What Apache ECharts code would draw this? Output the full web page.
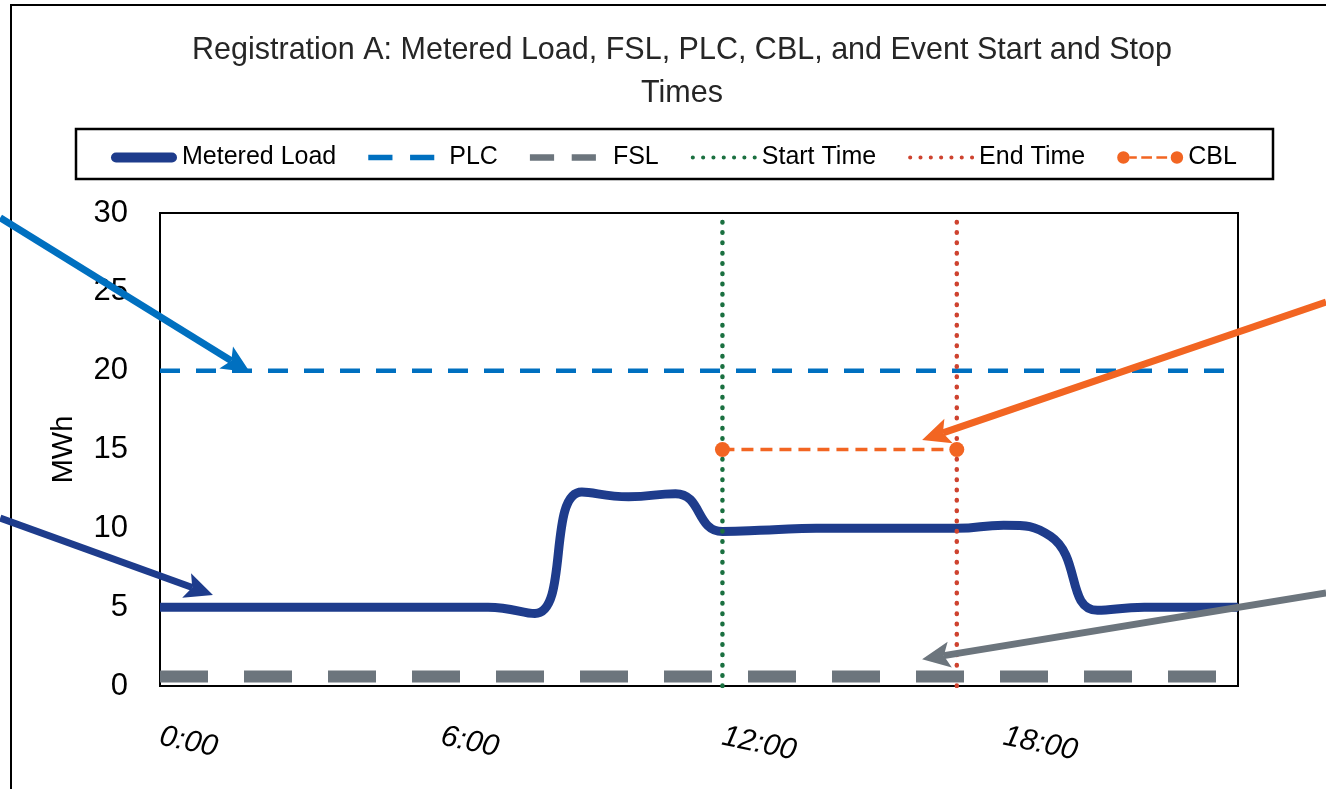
<!DOCTYPE html>
<html><head><meta charset="utf-8">
<script src="https://cdn.jsdelivr.net/npm/echarts@6/dist/echarts.min.js"></script>
<style>html,body{margin:0;padding:0;background:#fff}#c{width:1326px;height:789px}</style>
</head><body><div id="c"></div>
<script>
// ---- data ----
const hours = [0,1,2,3,4,5,6,7,8,9,10,11,12,13,14,15,16,17,18,19,20,21,22,23];
const meteredLoad = [5,5,5,5,5,5,5,5,4.6,12.3,12,12.2,9.8,9.9,10,10,10,10,10.2,9.5,4.8,5,5,5];
const plcValue = 20;
const fslValue = 0.6;
const cblValue = 15;
const eventStartHour = 12;
const eventEndHour = 17;
const xTickLabels = ['0:00','6:00','12:00','18:00'];
const seriesNames = ['Metered Load','PLC','FSL','Start Time','End Time','CBL'];
const titleText = 'Registration A: Metered Load, FSL, PLC, CBL, and Event Start and Stop\nTimes';
// annotation arrows: [fromHour, fromValue, tipHour, tipValue, color]
const annotations = [
  [-3.41, 29.7, 1.92, 19.9, '#0070C0'],
  [-3.41, 10.65, 1.13, 5.77, '#1E3C8C'],
  [24.88, 24.35, 16.26, 15.6, '#F26522'],
  [24.88, 5.9, 16.26, 1.7, '#6C757D']
];

const FONT = "'Liberation Sans',Arial,sans-serif";
const chart = echarts.init(document.getElementById('c'));
const xMin = hours[0], xMax = hours[hours.length-1];

function dotsPath(n, step, r) {
  let p = 'path://';
  for (let i = 0; i < n; i++) {
    const cx = r + i * step;
    p += 'M' + (cx - r) + ',' + r + 'a' + r + ',' + r + ' 0 1,0 ' + (2*r) + ',0a' + r + ',' + r + ' 0 1,0 ' + (-2*r) + ',0Z';
  }
  return p;
}
const icons = {
  metered: 'path://M5,0h56a5,5 0 0,1 0,10h-56a5,5 0 0,1 0,-10Z',
  plc: 'path://M0,0h22v5h-22Z M38,0h22v5h-22Z',
  fsl: 'path://M0,0h22v6h-22Z M38,0h22v6h-22Z',
  dots: dotsPath(7, 11, 2.2),
  cbl: 'path://M0,7a7,7 0 1,0 14,0a7,7 0 1,0 -14,0Z M14,5.5h8v3h-8Z M27,5.5h12v3h-12Z M44,5.5h12v3h-12Z M60,7a7,7 0 1,0 14,0a7,7 0 1,0 -14,0Z'
};

const option = {
  animation: false,
  backgroundColor: '#fff',
  title: {
    text: titleText, left: 677, top: 24, textAlign: 'center',
    textStyle: {fontFamily: FONT, fontSize: 30.5, fontWeight: 'normal', color: '#262626', lineHeight: 43}
  },
  legend: {
    top: 140, left: 106,
    itemWidth: 66, itemHeight: 14, itemGap: 32,
    textStyle: {fontFamily: FONT, fontSize: 25, color: '#000'},
    data: [
      {name: seriesNames[0], icon: icons.metered},
      {name: seriesNames[1], icon: icons.plc, textStyle: {padding: [0,0,0,10]}},
      {name: seriesNames[2], icon: icons.fsl, textStyle: {padding: [0,0,0,12]}},
      {name: seriesNames[3], icon: icons.dots},
      {name: seriesNames[4], icon: icons.dots},
      {name: seriesNames[5], icon: icons.cbl}
    ]
  },
  grid: {left: 160, right: 88, top: 213, bottom: 103, show: true, borderColor: '#000', borderWidth: 2, containLabel: false},
  xAxis: {
    type: 'value', min: xMin, max: xMax, interval: 6,
    axisLine: {show: true, lineStyle: {color: '#000', width: 2}},
    axisTick: {show: false}, splitLine: {show: false},
    axisLabel: {
      rotate: -12, margin: 50, showMaxLabel: false,
      fontFamily: FONT, fontSize: 30, fontStyle: 'italic', color: '#000',
      formatter: v => (v % 6 === 0 && v / 6 < xTickLabels.length) ? xTickLabels[v/6] : ''
    }
  },
  yAxis: {
    type: 'value', min: 0, max: 30, interval: 5,
    name: 'MWh', nameLocation: 'middle', nameGap: 82, nameRotate: 90,
    nameTextStyle: {fontFamily: FONT, fontSize: 29, color: '#000'},
    axisLine: {show: true, lineStyle: {color: '#000', width: 2}},
    axisTick: {show: false}, splitLine: {show: false},
    axisLabel: {margin: 32, fontFamily: FONT, fontSize: 31, color: '#000'}
  },
  series: [
    {name: seriesNames[0], type: 'line', smooth: 0.5, symbol: 'none', color: '#1E3C8C', z: 2,
     lineStyle: {width: 9, color: '#1E3C8C', cap: 'butt'},
     data: hours.map((h,i) => [h, meteredLoad[i]])},
    {name: seriesNames[1], type: 'line', symbol: 'none', color: '#0070C0', z: 3,
     lineStyle: {width: 4.5, color: '#0070C0', type: [20,16]},
     data: [[xMin, plcValue],[xMax, plcValue]]},
    {name: seriesNames[2], type: 'line', symbol: 'none', color: '#6C757D', z: 5,
     lineStyle: {width: 12, color: '#6C757D', type: [48,36]},
     data: [[xMin, fslValue],[xMax, fslValue]]},
    {name: seriesNames[3], type: 'line', symbol: 'none', color: '#1A7040', z: 4,
     lineStyle: {width: 4.5, color: '#1A7040', type: [0.5, 9.8], cap: 'round'},
     data: [[eventStartHour, 0],[eventStartHour, 30]]},
    {name: seriesNames[4], type: 'line', symbol: 'none', color: '#CE432F', z: 4,
     lineStyle: {width: 4.5, color: '#CE432F', type: [0.5, 9.8], cap: 'round'},
     data: [[eventEndHour, 0],[eventEndHour, 30]]},
    {name: seriesNames[5], type: 'line', symbol: 'circle', symbolSize: 15, color: '#F26522', z: 6,
     itemStyle: {color: '#F26522'},
     lineStyle: {width: 3.5, color: '#F26522', type: [12,7]},
     data: [[eventStartHour, cblValue],[eventEndHour, cblValue]]}
  ]
};
chart.setOption(option);

function arrowGraphics(a) {
  const p0 = chart.convertToPixel({gridIndex: 0}, [a[0], a[1]]);
  const p1 = chart.convertToPixel({gridIndex: 0}, [a[2], a[3]]);
  const dx = p1[0]-p0[0], dy = p1[1]-p0[1];
  const len = Math.sqrt(dx*dx+dy*dy);
  const ux = dx/len, uy = dy/len, nx = -uy, ny = ux;
  const L = 28, W = 26;
  const bx = p1[0]-ux*L, by = p1[1]-uy*L;
  return [
    {type: 'line', z: 100, silent: true,
     shape: {x1: p0[0], y1: p0[1], x2: bx+ux*6, y2: by+uy*6},
     style: {stroke: a[4], lineWidth: 7}},
    {type: 'polygon', z: 100, silent: true,
     shape: {points: [[p1[0],p1[1]],[bx+nx*W/2, by+ny*W/2],[bx+ux*6, by+uy*6],[bx-nx*W/2, by-ny*W/2]]},
     style: {fill: a[4]}}
  ];
}
let g = [
  {type: 'rect', z: 50, silent: true, shape: {x: 11, y: 5, width: 1400, height: 900}, style: {fill: 'none', stroke: '#000', lineWidth: 2}},
  {type: 'rect', z: 50, silent: true, shape: {x: 76, y: 129, width: 1197, height: 50}, style: {fill: 'none', stroke: '#000', lineWidth: 2.5}}
];
annotations.forEach(a => { g = g.concat(arrowGraphics(a)); });
chart.setOption({graphic: g});
</script></body></html>
